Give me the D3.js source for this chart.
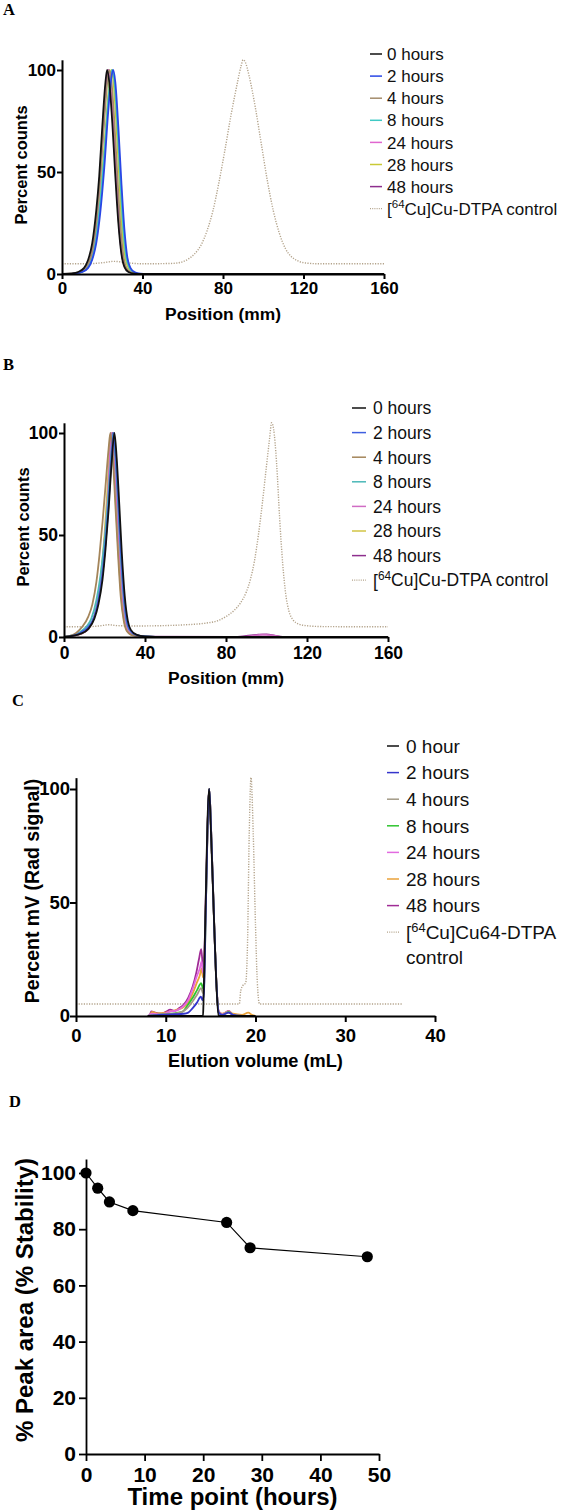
<!DOCTYPE html>
<html>
<head>
<meta charset="utf-8">
<script src="https://cdn.jsdelivr.net/npm/d3@7"></script>
<style>
  body { margin: 0; background: #fff; }
  text { font-family: "Liberation Sans", Arial, Helvetica, sans-serif; }
</style>
</head>
<body>
<div id="chart"></div>
<script>
// ---- data ----
var labelsAB = ["0 hours", "2 hours", "4 hours", "8 hours", "24 hours", "28 hours", "48 hours"];
var labelsC  = ["0 hour", "2 hours", "4 hours", "8 hours", "24 hours", "28 hours", "48 hours"];

var colorsA = ["#111111", "#2946e6", "#a48c6c", "#3fc9c4", "#e066cf", "#c9c936", "#8e2f8e"];
var colorsB = ["#111111", "#3f5fe0", "#a4855a", "#4ab8b8", "#d06cc4", "#d2c444", "#8e2f8e"];
var colorsC = ["#111111", "#3535cc", "#a39a86", "#2fc42f", "#e26ae0", "#eaa23a", "#a02c96"];

// panel A : radio-TLC, position (mm) vs percent counts
var A_0h  = [[0,0],[5,0.3],[8,1],[11,3],[13,7],[15,15],[17,31],[18.5,48],[20,72],[21.5,93],[22.4,100],[23.5,94],[25,74],[26.5,48],[28,25],[29.5,10],[31,3.5],[33,1],[36,0.2],[40,0],[160,0]];
var A_2h  = [[0,0],[6,0.2],[10,1],[13,3],[15,7],[17,15],[19,30],[21,52],[23,80],[24.5,96],[25.4,100],[26.5,94],[28,72],[29.5,45],[31,22],[32.5,8],[34,3],[36,1],[39,0.2],[42,0],[160,0]];
var A_4h  = [[0,0],[6,0.3],[10,1.5],[13,5],[15,11],[17,25],[19,48],[21,76],[22.6,95],[23.5,100],[24.5,95],[26,75],[27.5,48],[29,24],[30.5,9],[32,3],[34,1],[37,0.2],[40,0],[160,0]];
var A_8h  = [[0,0],[6,0.2],[10,1],[13,3.5],[15,8],[17,18],[19,35],[21,58],[23,85],[24.2,97],[25,100],[26,95],[27.5,74],[29,46],[30.5,22],[32,8],[33.5,3],[36,0.6],[40,0],[160,0]];
var A_24h = [[0,0],[6,0.2],[10,1.2],[13,4],[15,10],[17,24],[19,48],[21,78],[22.2,95],[23,100],[24,94],[25.5,74],[27,47],[28.5,23],[30,9],[31.5,3],[33.5,1],[37,0.1],[40,0],[160,0]];
var A_28h = [[0,0],[6,0.2],[10,1],[13,3.5],[15,8],[17,19],[19,38],[21,62],[23,88],[24,98],[24.6,100],[25.6,94],[27,74],[28.5,46],[30,21],[31.5,8],[33,3],[35.5,0.6],[40,0],[160,0]];
var A_48h = [[0,0],[6,0.2],[10,1.3],[13,4.5],[15,11],[17,26],[19,50],[21,80],[22.2,96],[23,100],[24,93],[25.5,72],[27,45],[28.5,22],[30,8],[31.5,3],[33.5,1],[37,0.1],[40,0],[160,0]];
var A_ctrl = [[0,5],[12,5],[20,5.5],[26,6.2],[32,5.5],[40,5],[55,5.2],[60,6],[63,7.5],[66,10],[69,14],[72,21],[75,31],[78,45],[81,61],[84,78],[87,93],[89,102],[90,105],[91,104],[93,97],[96,82],[99,64],[102,46],[105,31],[108,20],[111,12.5],[114,8.5],[117,6.5],[121,5.4],[128,5],[160,5]];

// panel B
var B_0h  = [[0,0],[4,0.5],[8,1.5],[12,4],[15,9],[17,16],[19,28],[20.5,43],[22,62],[23.5,85],[24.9,100],[26,88],[27.3,65],[28.5,42],[30,20],[31.5,8],[33,3.5],[36,1],[40,0.3],[50,0],[160,0]];
var B_2h  = [[0,0],[4,0.6],[8,2],[12,5],[15,10],[17,18],[19,31],[20.5,46],[22,65],[23.3,86],[24.5,100],[25.6,88],[26.9,65],[28.1,42],[29.6,20],[31,8],[32.5,3.5],[35.5,1],[40,0.3],[50,0],[160,0]];
var B_4h  = [[0,0],[3,0.6],[6,2],[9,5],[12,10],[14,16],[16,27],[17.5,40],[19,56],[20.5,74],[22,92],[22.9,100],[24,90],[25.3,66],[26.6,42],[28,20],[29.5,8],[31,3],[34,0.8],[40,0.2],[50,0],[160,0]];
var B_8h  = [[0,0],[4,0.8],[8,2.5],[11,5],[13.5,9],[16,18],[18,30],[20,47],[21.5,64],[23,85],[24.3,100],[25.4,88],[26.7,65],[27.9,42],[29.4,20],[30.8,8],[32.3,3.5],[35.5,1],[40,0.3],[50,0],[160,0]];
var B_24h = [[0,0],[4,0.5],[8,1.5],[12,4],[15,10],[17,19],[18.5,31],[20,47],[21.5,67],[22.5,86],[23.4,100],[24.6,90],[26,67],[27.4,43],[28.8,21],[30.3,8],[32,3],[35,0.8],[40,0.2],[50,0],[88,0],[93,0.6],[98,1.2],[103,0.8],[108,0],[160,0]];
var B_28h = [[0,0],[4,0.5],[8,1.5],[12,4],[15,10],[17,20],[18.5,33],[20,50],[21.3,70],[22.3,88],[23.1,100],[24.2,90],[25.5,67],[26.8,43],[28.2,21],[29.7,8],[31.3,3],[34.5,0.8],[40,0.2],[50,0],[160,0]];
var B_48h = [[0,0],[4,0.5],[8,1.5],[12,4],[15,10],[17,18],[19,31],[20.5,47],[22,68],[23.1,88],[24,100],[25.1,88],[26.4,65],[27.7,42],[29.1,20],[30.6,8],[32.1,3.5],[35.5,1],[40,0.2],[84,0],[90,0.5],[96,1.1],[100,1.3],[104,0.7],[108,0],[160,0]];
var B_ctrl = [[0,5],[10,5],[18,5.5],[22,6],[26,5.6],[35,5.4],[50,5.6],[60,6],[70,6.8],[76,8],[80,10],[84,13],[87,16.5],[90,22],[92,28],[94,37],[96,50],[98,66],[100,84],[101.5,97],[102.5,105],[103.5,102],[105,85],[106.5,58],[108,36],[109.5,21],[111,13],[113,8.5],[116,6.3],[120,5.5],[128,5.1],[160,5]];

// panel C : radio-HPLC, elution volume (mL) vs percent mV
var C_0h  = [[8,0],[14.15,0],[14.2,5],[14.4,42],[14.83,100],[15.0,85],[15.38,42],[15.6,18],[15.87,0],[20,0]];
var C_2h  = [[8,0],[9,0.4],[10,0.6],[11,0.8],[12,1],[12.5,1.5],[13,3.5],[13.5,6],[13.9,8.5],[14.1,7],[14.25,10],[14.45,45],[14.85,100],[15.05,82],[15.4,40],[15.65,14],[15.9,1.5],[16.3,0.5],[17,1.5],[17.5,0.5],[18.5,0]];
var C_4h  = [[8,0],[9,0.5],[10,0.8],[11,1],[11.8,1.8],[12.4,3.5],[13,6.5],[13.5,9.5],[13.95,12.3],[14.15,10],[14.3,15],[14.45,45],[14.85,100],[15.05,82],[15.4,40],[15.65,14],[15.9,1.5],[16.3,0.5],[17,1.5],[17.5,0.5],[18.5,0]];
var C_8h  = [[8,0],[9,0.5],[10,0.8],[11,1.2],[11.9,2],[12.4,4.5],[13,8],[13.5,11.5],[13.95,14.5],[14.15,12],[14.3,18],[14.45,45],[14.85,100],[15.05,82],[15.4,40],[15.65,14],[15.9,1.5],[16.3,0.5],[17,1.8],[17.5,0.5],[18.5,0]];
var C_24h = [[8,0],[8.5,1],[9,0.8],[10,1.2],[10.5,2],[11,2.2],[11.5,3],[12,4.5],[12.5,7],[13,12],[13.5,18],[13.8,21],[14.0,24],[14.15,19],[14.3,25],[14.45,48],[14.85,100],[15.05,82],[15.4,40],[15.65,14],[15.9,2],[16.3,0.8],[17,2],[17.5,0.6],[18.5,0]];
var C_28h = [[8.2,0],[8.5,1.8],[9,1.2],[10,1.5],[10.5,2],[11,2.5],[11.5,3],[12,4],[12.5,6],[13,10],[13.5,15],[13.8,18],[14.0,21],[14.15,17],[14.3,23],[14.45,46],[14.85,100],[15.05,82],[15.4,40],[15.65,14],[15.9,2],[16.3,1],[17,2],[17.5,1],[18.5,0.5],[19.2,1.5],[19.6,0.5],[20,0]];
var C_48h = [[8.2,0],[8.4,2],[8.8,1.5],[9.5,1],[10,1.8],[10.5,2.8],[11,2.2],[11.5,3.5],[12,5],[12.5,8],[13,13],[13.4,19],[13.7,25],[13.95,29.4],[14.15,22],[14.3,27],[14.45,50],[14.85,100],[15.05,82],[15.4,40],[15.65,14],[15.9,2],[16.3,0.8],[17,2.2],[17.5,0.6],[18.5,0]];
var C_ctrl = [[0,5.3],[10,5.3],[18.2,5.3],[18.35,11],[18.6,13.5],[18.9,14.5],[19.1,30],[19.3,80],[19.5,105],[19.75,80],[20.0,40],[20.2,15],[20.45,5.3],[30,5.3],[36.3,5.3]];

// panel D : % peak area vs time point
var timePoints = [0, 2, 4, 8, 24, 28, 48];
var stability  = [100, 94.6, 89.7, 86.6, 82.4, 73.4, 70.2];

var svg = d3.select('#chart').append('svg')
  .attr('width', 568).attr('height', 1512)
  .style('background', '#fff');

var ctrlColor = '#b3a38b';

function styleAxis(gAx, fs, sw) {
  gAx.select('.domain').attr('stroke', '#000').attr('stroke-width', sw);
  gAx.selectAll('.tick line').attr('stroke', '#000').attr('stroke-width', sw);
  gAx.selectAll('.tick text')
    .attr('fill', '#000')
    .attr('font-size', fs)
    .attr('font-weight', 'bold')
    .attr('font-family', '"Liberation Sans", Arial, sans-serif');
}

function drawPanel(p) {
  var x = d3.scaleLinear().domain(p.xDomain).range([p.left, p.right]);
  var y = d3.scaleLinear().domain([0, 100]).range([p.y0, p.y100]);
  var g = svg.append('g');

  var line = d3.line()
    .x(function(d) { return x(d[0]); })
    .y(function(d) { return y(d[1]); })
    .curve(d3.curveMonotoneX);

  // control trace first, dotted
  g.append('path').datum(p.control)
    .attr('d', line).attr('fill', 'none')
    .attr('stroke', ctrlColor).attr('stroke-width', 1.4)
    .attr('stroke-dasharray', '1.2,1.4');

  // time series, last one at the bottom
  p.series.slice().reverse().forEach(function(s, i) {
    var k = p.series.length - 1 - i;
    g.append('path').datum(s)
      .attr('d', line).attr('fill', 'none')
      .attr('stroke', p.colors[k]).attr('stroke-width', 1.8)
      .attr('stroke-linejoin', 'round');
  });

  var gx = g.append('g').attr('transform', 'translate(0,' + p.y0 + ')')
    .call(d3.axisBottom(x).tickValues(p.xTicks).tickSize(p.tick).tickPadding(p.xPad).tickSizeOuter(0));
  styleAxis(gx, p.tickFs, 2);

  var gy = g.append('g').attr('transform', 'translate(' + p.left + ',0)')
    .call(d3.axisLeft(y.copy().domain([0, 105]).range([p.y0, p.y0 - 1.05 * (p.y0 - p.y100)]))
      .tickValues([0, 50, 100]).tickSize(p.tick).tickPadding(p.yPad).tickSizeOuter(0));
  styleAxis(gy, p.tickFs, 2);

  g.append('text')
    .attr('x', (p.left + p.right) / 2).attr('y', p.xTitleY)
    .attr('text-anchor', 'middle').attr('font-weight', 'bold')
    .attr('font-size', p.xTitleFs).text(p.xTitle);

  g.append('text')
    .attr('transform', 'translate(' + p.yTitleX + ',' + p.yTitleC + ') rotate(-90)')
    .attr('text-anchor', 'middle').attr('font-weight', 'bold')
    .attr('font-size', p.yTitleFs).text(p.yTitle);

  // legend
  var lg = g.append('g');
  p.labels.forEach(function(lab, i) {
    var cy = p.legY + i * p.legStep;
    lg.append('line')
      .attr('x1', p.legX1).attr('x2', p.legX2).attr('y1', cy).attr('y2', cy)
      .attr('stroke', p.colors[i]).attr('stroke-width', 1.5);
    lg.append('text').attr('x', p.legTx).attr('y', cy).attr('dy', '0.36em')
      .attr('font-size', p.legFs).attr('fill', '#111').text(lab);
  });
  var cy = p.legY + p.labels.length * p.legStep;
  lg.append('line')
    .attr('x1', p.legX1).attr('x2', p.legX2).attr('y1', cy).attr('y2', cy)
    .attr('stroke', ctrlColor).attr('stroke-width', 1.3).attr('stroke-dasharray', '1,1.2');
  var t = lg.append('text').attr('x', p.legTx).attr('y', cy).attr('dy', '0.36em')
    .attr('font-size', p.legFs).attr('fill', '#111');
  t.append('tspan').text('[');
  t.append('tspan').attr('font-size', p.legFs * 0.68).attr('dy', '-0.55em').text('64');
  t.append('tspan').attr('dy', '0.37em').text(p.ctrlLabel[0]);
  if (p.ctrlLabel[1]) {
    lg.append('text').attr('x', p.legTx).attr('y', cy + p.legStep * 0.95).attr('dy', '0.36em')
      .attr('font-size', p.legFs).attr('fill', '#111').text(p.ctrlLabel[1]);
  }
}

drawPanel({
  series: [A_0h, A_2h, A_4h, A_8h, A_24h, A_28h, A_48h], control: A_ctrl,
  colors: colorsA, labels: labelsAB, ctrlLabel: ['Cu]Cu-DTPA control'],
  xDomain: [0, 160], xTicks: [0, 40, 80, 120, 160],
  left: 62, right: 384, y0: 274, y100: 70,
  tick: 5, xPad: 3, yPad: 1, tickFs: 17,
  xTitle: 'Position (mm)', xTitleY: 320, xTitleFs: 17.4,
  yTitle: 'Percent counts', yTitleX: 27, yTitleC: 165, yTitleFs: 16.5,
  legX1: 370, legX2: 382, legTx: 387, legY: 54, legStep: 22.1, legFs: 17
});

drawPanel({
  series: [B_0h, B_2h, B_4h, B_8h, B_24h, B_28h, B_48h], control: B_ctrl,
  colors: colorsB, labels: labelsAB, ctrlLabel: ['Cu]Cu-DTPA control'],
  xDomain: [0, 160], xTicks: [0, 40, 80, 120, 160],
  left: 64, right: 388, y0: 637, y100: 433,
  tick: 5, xPad: 5, yPad: 1, tickFs: 17.5,
  xTitle: 'Position (mm)', xTitleY: 684, xTitleFs: 17.4,
  yTitle: 'Percent counts', yTitleX: 29, yTitleC: 527, yTitleFs: 16.5,
  legX1: 352, legX2: 366, legTx: 373, legY: 408, legStep: 24.6, legFs: 17.5
});

drawPanel({
  series: [C_0h, C_2h, C_4h, C_8h, C_24h, C_28h, C_48h], control: C_ctrl,
  colors: colorsC, labels: labelsC, ctrlLabel: ['Cu]Cu64-DTPA', 'control'],
  xDomain: [0, 40], xTicks: [0, 10, 20, 30, 40],
  left: 76, right: 435, y0: 1016, y100: 789,
  tick: 6, xPad: 7, yPad: 0, tickFs: 18.5,
  xTitle: 'Elution volume (mL)', xTitleY: 1067, xTitleFs: 18.2,
  yTitle: 'Percent mV (Rad signal)', yTitleX: 39, yTitleC: 891, yTitleFs: 19.5,
  legX1: 387, legX2: 399, legTx: 406, legY: 746, legStep: 26.6, legFs: 19
});

// panel D
(function() {
  var left = 86, right = 379, y0 = 1454, y100 = 1173;
  var x = d3.scaleLinear().domain([0, 50]).range([left, right]);
  var y = d3.scaleLinear().domain([0, 105]).range([y0, y0 - 1.05 * (y0 - y100)]);
  var g = svg.append('g');
  var pts = timePoints.map(function(t, i) { return [t, stability[i]]; });

  g.append('path').datum(pts)
    .attr('d', d3.line().x(function(d) { return x(d[0]); }).y(function(d) { return y(d[1]); }))
    .attr('fill', 'none').attr('stroke', '#000').attr('stroke-width', 1.2);

  g.selectAll('circle').data(pts).enter().append('circle')
    .attr('cx', function(d) { return x(d[0]); })
    .attr('cy', function(d) { return y(d[1]); })
    .attr('r', 5.6).attr('fill', '#000');

  var gx = g.append('g').attr('transform', 'translate(0,' + y0 + ')')
    .call(d3.axisBottom(x).tickValues([0, 10, 20, 30, 40, 50]).tickSize(7).tickPadding(6).tickSizeOuter(0));
  styleAxis(gx, 21, 1.8);
  var gy = g.append('g').attr('transform', 'translate(' + left + ',0)')
    .call(d3.axisLeft(y).tickValues([0, 20, 40, 60, 80, 100]).tickSize(7).tickPadding(3).tickSizeOuter(0));
  styleAxis(gy, 21, 1.8);

  g.append('text').attr('x', (left + right) / 2).attr('y', 1505)
    .attr('text-anchor', 'middle').attr('font-weight', 'bold').attr('font-size', 24)
    .text('Time point (hours)');
  g.append('text').attr('transform', 'translate(33,1300) rotate(-90)')
    .attr('text-anchor', 'middle').attr('font-weight', 'bold').attr('font-size', 24)
    .text('% Peak area (% Stability)');
})();

// panel letters
var letters = [['A', 3, 15], ['B', 3, 370], ['C', 12, 706], ['D', 9, 1107]];
svg.selectAll('text.panel').data(letters).enter().append('text')
  .attr('class', 'panel')
  .attr('x', function(d) { return d[1]; })
  .attr('y', function(d) { return d[2]; })
  .style('font-family', '"Liberation Serif", "Times New Roman", serif')
  .attr('font-weight', 'bold').attr('font-size', 16.5)
  .text(function(d) { return d[0]; });
</script>
</body>
</html>
